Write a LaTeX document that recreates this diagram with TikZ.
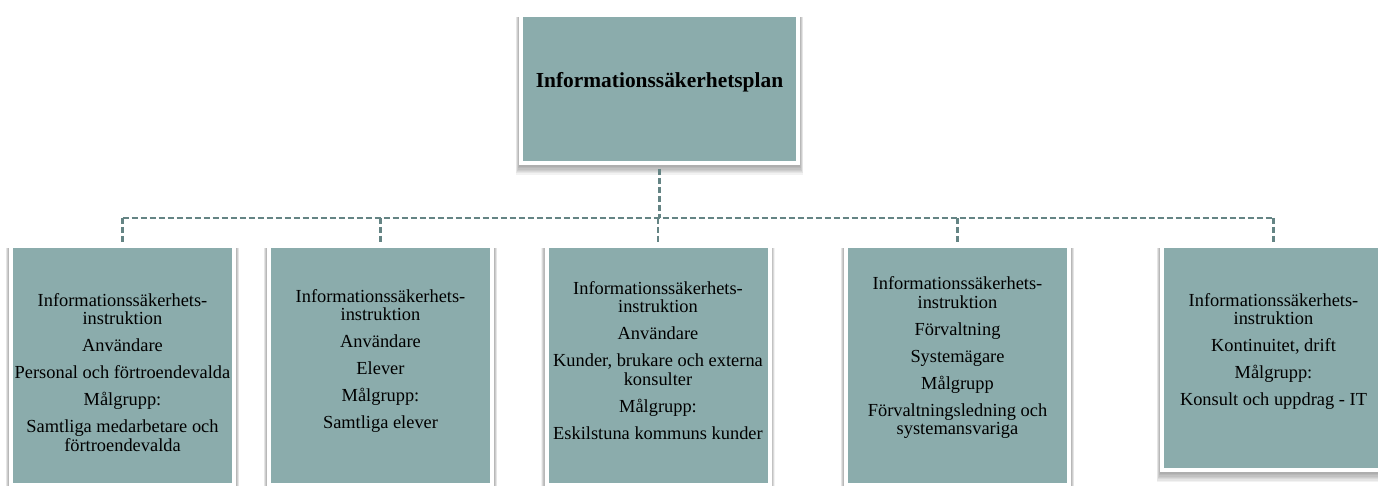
\documentclass[tikz,border=0pt]{standalone}
\usepackage{fontspec}
\setmainfont{Liberation Serif}
\usetikzlibrary{calc}
\definecolor{boxfill}{RGB}{139,172,172}
\definecolor{connc}{RGB}{100,132,132}
\pgfdeclarelayer{bg}
\pgfsetlayers{bg,main}
\newcommand{\softshade}[1]{%
  \begin{pgfonlayer}{bg}
  \foreach \k in {0,...,6}{
    \fill[black, opacity=0.05]
      ($(#1.north west)+(-0.55*\k,4)$) rectangle ($(#1.south east)+(0.55*\k,2+1.3*\k)$);
  }
  \end{pgfonlayer}}
\begin{document}
\begin{tikzpicture}[x=1pt,y=-1pt,
  boxst/.style={draw=white, line width=4pt, fill=boxfill, minimum width=223pt, inner sep=0pt},
  txt/.style={align=center, font=\fontsize{18.4}{18.5}\selectfont, inner sep=0pt},
  conn/.style={draw=connc, line width=2.4pt, dash pattern=on 6pt off 3pt}]
\useasboundingbox (0,0) rectangle (1378,486);
\begin{pgfonlayer}{bg}
\fill[white] (0,0) rectangle (1378,486);
\end{pgfonlayer}

\node[boxst, minimum width=277pt, minimum height=148pt] (top) at (659.5,89) {};
\node[boxst, minimum height=239pt] (b1) at (122.5,365.5) {};
\node[boxst, minimum height=239pt] (b2) at (380.5,365.5) {};
\node[boxst, minimum height=239pt] (b3) at (658,365.5) {};
\node[boxst, minimum height=239pt] (b4) at (957.5,365.5) {};
\node[boxst, minimum height=224pt] (b5) at (1273.5,358) {};
\softshade{top}
\softshade{b1}
\softshade{b2}
\softshade{b3}
\softshade{b4}
\softshade{b5}

\coordinate (hy) at (0,218);
\draw[conn, shorten <=4pt] (top.south) -- (top.south |- hy);
\draw[conn] (b1.north |- hy) -- (b5.north |- hy);
\foreach \b in {b1,b2,b3,b4,b5}
  \draw[conn, shorten >=2pt] (\b.north |- hy) -- (\b.north);

\node[font=\bfseries\fontsize{21.4}{24}\selectfont, inner sep=0pt] (t0) at (659.5,82) {Informationssäkerhetsplan};

\node[txt] (t1) at (122.5,372.5) {Informationssäkerhets-\\instruktion\\[8.5pt]Användare\\[8.5pt]Personal och förtroendevalda\\[8.5pt]Målgrupp:\\[8.5pt]Samtliga medarbetare och\\förtroendevalda};
\node[txt] (t2) at (380.5,361) {Informationssäkerhets-\\instruktion\\[8.5pt]Användare\\[8.5pt]Elever\\[8.5pt]Målgrupp:\\[8.5pt]Samtliga elever};
\node[txt] (t3) at (658,360.5) {Informationssäkerhets-\\instruktion\\[8.5pt]Användare\\[8.5pt]Kunder, brukare och externa\\konsulter\\[8.5pt]Målgrupp:\\[8.5pt]Eskilstuna kommuns kunder};
\node[txt] (t4) at (957.5,358) {Informationssäkerhets-\\instruktion\\[8.5pt]Förvaltning\\[8.5pt]Systemägare\\[8.5pt]Målgrupp\\[8.5pt]Förvaltningsledning och\\systemansvariga};
\node[txt] (t5) at (1273.5,351.5) {Informationssäkerhets-\\instruktion\\[8.5pt]Kontinuitet, drift\\[8.5pt]Målgrupp:\\[8.5pt]Konsult och uppdrag - IT};
\end{tikzpicture}
\end{document}
